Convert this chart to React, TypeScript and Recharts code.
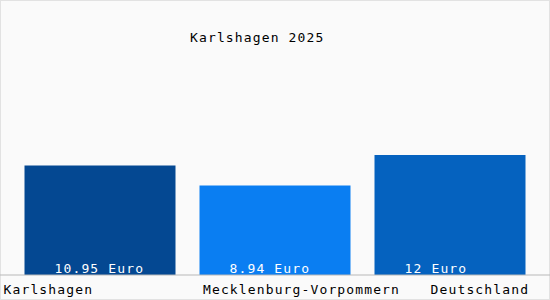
import React from 'react';
import { BarChart, Bar, XAxis, YAxis, Cell, LabelList } from 'recharts';

const categories = ['Karlshagen', 'Mecklenburg-Vorpommern', 'Deutschland'];
const values = [10.95, 8.94, 12];
const valueLabels = ['10.95 Euro', '8.94 Euro', '12 Euro'];
const barColors = ['#044892', '#0a7ef2', '#0562bf'];
const title = 'Karlshagen 2025';

const data = categories.map((name, i) => ({ name, value: values[i], label: valueLabels[i] }));

const FONT = '"DejaVu Sans Mono", monospace';
const FS = 13;
const CHAR = 8.95;

const MonoText = ({ x, y, anchor = 'start', fill = '#000', children }: any) => {
  const s = String(children);
  return (
    <text x={x} y={y} textAnchor={anchor} fontFamily={FONT} fontSize={FS} fill={fill}
      textLength={s.length * CHAR - 1} lengthAdjust="spacing">
      {s}
    </text>
  );
};

const CategoryTick = (props: any) => {
  const { x, y, payload, index } = props;
  const last = categories.length - 1;
  let anchor: 'start' | 'end' = 'start';
  let tx = x;
  if (index === 0) tx = x - 96.5;
  else if (index === last) { anchor = 'end'; tx = x + 78; }
  else tx = x - 72;
  return <MonoText x={tx} y={y + 10.5} anchor={anchor}>{payload.value}</MonoText>;
};

const ValueLabel = (props: any) => {
  const { x, y, height, index } = props;
  return <MonoText x={x + 30} y={y + height - 2.5} fill="#ffffff">{valueLabels[index]}</MonoText>;
};

export default function App() {
  return (
    <div style={{ position: 'absolute', left: 0, top: 0, width: 550, height: 300, background: '#fafafa',
      border: '1px solid #e2e2e2', boxSizing: 'border-box' }}>
      <svg width={550} height={300} style={{ position: 'absolute', left: -1, top: -1 }}>
        <MonoText x={190} y={42}>{title}</MonoText>
      </svg>
      <div style={{ position: 'absolute', left: -1, top: -1 }}>
        <BarChart width={550} height={300} data={data} margin={{ top: 5, right: 0, bottom: 0, left: 0 }}>
          <YAxis hide domain={[0, 27]} />
          <XAxis dataKey="name" height={25} padding={{ left: 12.5, right: 12.5 }}
            axisLine={{ stroke: '#b8b8b8' }} tickLine={false} tick={<CategoryTick />} interval={0} />
          <Bar dataKey="value" barSize={151} isAnimationActive={false}>
            {data.map((d, i) => <Cell key={d.name} fill={barColors[i]} />)}
            <LabelList dataKey="label" content={<ValueLabel />} />
          </Bar>
        </BarChart>
      </div>
    </div>
  );
}
